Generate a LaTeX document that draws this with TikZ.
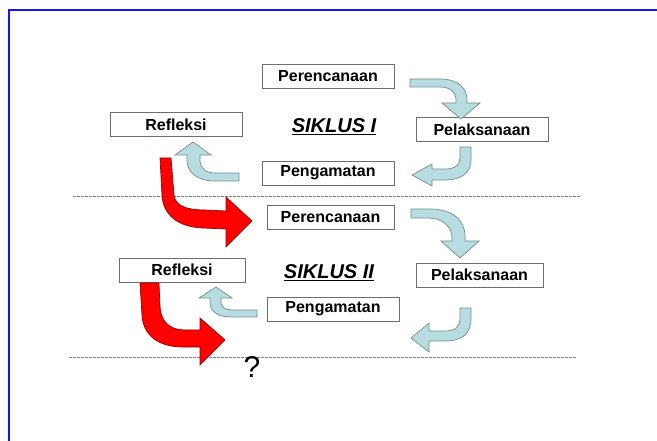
\documentclass[tikz,border=0pt]{standalone}
\usepackage{fontspec}
\setmainfont{Liberation Sans}
\definecolor{frameblue}{RGB}{20,20,245}
\definecolor{arrowfill}{RGB}{183,221,224}
\definecolor{arrowline}{RGB}{115,140,145}
\definecolor{boxline}{RGB}{110,110,110}
\definecolor{redline}{RGB}{150,0,0}
\tikzset{
  stagebox/.style={draw=boxline, line width=0.9pt, fill=white, minimum height=24pt, inner sep=0pt, font=\fontsize{16}{18}\selectfont\bfseries},
  cyclelabel/.style={inner sep=0pt, font=\fontsize{20}{22}\selectfont\bfseries\itshape},
  bluearrow/.style={fill=arrowfill, draw=arrowline, line width=0.7pt, line join=miter},
  redarrow/.style={fill=red, draw=redline, line width=0.7pt, line join=miter},
  sepline/.style={draw=gray, line width=0.7pt, dash pattern=on 2.5pt off 1.5pt}
}
\begin{document}
\begin{tikzpicture}[x=1pt,y=-1pt]
\useasboundingbox (0,0) rectangle (657,441);
\fill[white] (0,0) rectangle (657,441);
% frame
\coordinate (fr1) at (657,10);
\coordinate (fr2) at (9,10);
\coordinate (fr3) at (9,441);
\draw[frameblue, line width=2.2pt] (fr1) -- (fr2) -- (fr3);

% separator lines
\coordinate (s1a) at (73,196);
\coordinate (s1b) at (580,196);
\coordinate (s2a) at (69,357);
\coordinate (s2b) at (576,357);
\draw[sepline] (s1a) -- (s1b);
\draw[sepline] (s2a) -- (s2b);

% boxes cycle I
\node[stagebox, minimum width=132pt] (per1) at (328,76) {Perencanaan};
\node[stagebox, minimum width=132pt] (pel1) at (482,129.5) {Pelaksanaan};
\node[stagebox, minimum width=132pt] (peng1) at (328,173) {Pengamatan};
\node[stagebox, minimum width=132pt] (ref1) at (176,124.5) {Refleksi};
\node[cyclelabel] (sik1) at (334,127) {\underline{SIKLUS I}};

% boxes cycle II
\node[stagebox, minimum width=127pt] (per2) at (330.5,217) {Perencanaan};
\node[stagebox, minimum width=127pt] (pel2) at (479.5,275) {Pelaksanaan};
\node[stagebox, minimum width=132pt] (peng2) at (333,309) {Pengamatan};
\node[stagebox, minimum width=126pt] (ref2) at (182,270) {Refleksi};
\node[cyclelabel] (sik2) at (329,273) {\underline{SIKLUS II}};

% blue arrows cycle I
\draw[bluearrow] (410,79) -- (440,79) .. controls (458,79) and (467,88) .. (467,100) -- (467,103) -- (480,103) -- (461,119) -- (442,103) -- (456,103) -- (456,100) .. controls (456,92) and (450,87) .. (440,87) -- (410,87) -- cycle;
\draw[bluearrow] (471,147) -- (471,160) .. controls (471,172) and (462,180) .. (445,180) -- (432,180) -- (432,186) -- (412,175) -- (432,164) -- (432,169) -- (445,169) .. controls (455,169) and (460,165) .. (460,158) -- (460,147) -- cycle;
\draw[bluearrow] (239,173) -- (215,173) .. controls (205,173) and (200,168) .. (200,160) -- (200,155) -- (211,155) -- (193,142) -- (175,155) -- (187,155) -- (187,160) .. controls (187,173) and (198,181) .. (215,181) -- (239,181) -- cycle;

% blue arrows cycle II
\draw[bluearrow] (411,209) -- (430,209) .. controls (452,209) and (465,220) .. (465,236) -- (465,241) -- (479,241) -- (460,258) -- (441,241) -- (452,241) -- (452,238) .. controls (452,226) and (442,218) .. (428,218) -- (411,218) -- cycle;
\draw[bluearrow] (471,308) -- (471,318) .. controls (471,334) and (462,341) .. (445,341) -- (429,341) -- (429,352) -- (411,338) -- (429,323) -- (429,331) -- (445,331) .. controls (455,331) and (460,327) .. (460,318) -- (460,308) -- cycle;
\draw[bluearrow] (257,310) -- (232,310) .. controls (225,310) and (221,307) .. (221,302) -- (221,298) -- (232,298) -- (216,287) -- (199,298) -- (210,298) -- (210,302) .. controls (210,312) and (218,317) .. (232,317) -- (257,317) -- cycle;

% red arrows
\draw[redarrow] (160,158) -- (171,158) -- (174,195) .. controls (175,205) and (185,210) .. (205,210) -- (226,211) -- (226,197) -- (252,221) -- (226,247) -- (226,229) -- (203,228) .. controls (178,227) and (163,215) .. (162,195) -- cycle;
\draw[redarrow] (140,283) -- (159,283) -- (160,307) .. controls (161,322) and (170,330) .. (185,330) -- (200,330) -- (200,318) -- (225,340) -- (200,365) -- (200,347) -- (183,347) .. controls (158,347) and (143,335) .. (142,315) -- cycle;

% question mark
\node[inner sep=0pt, font=\fontsize{30}{32}\selectfont] (q) at (252,367) {?};
\end{tikzpicture}
\end{document}
